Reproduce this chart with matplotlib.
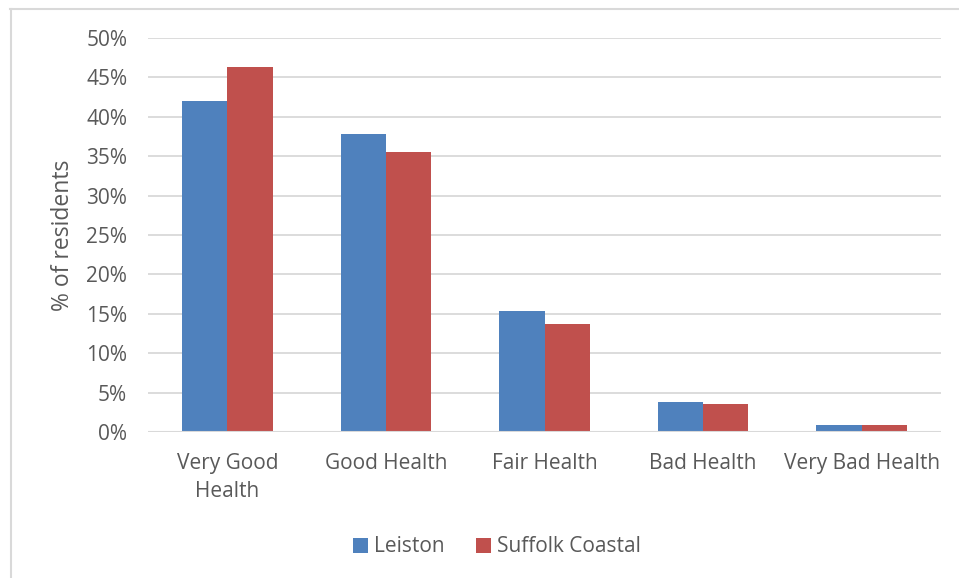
import matplotlib
matplotlib.use("Agg")
import matplotlib.pyplot as plt
from matplotlib.lines import Line2D
from matplotlib.ticker import FuncFormatter
import numpy as np

plt.rcParams['font.family'] = ['Open Sans', 'DejaVu Sans']

categories = ["Very Good\nHealth", "Good Health", "Fair Health", "Bad Health", "Very Bad Health"]
leiston = [42.0, 37.8, 15.4, 3.8, 0.9]
suffolk_coastal = [46.3, 35.5, 13.7, 3.5, 0.9]
series_names = ["Leiston", "Suffolk Coastal"]
y_ticks = [0, 5, 10, 15, 20, 25, 30, 35, 40, 45, 50]

BLUE = "#4F81BD"
RED = "#C0504D"
TEXT = "#595959"
GRID = "#D9D9D9"

W, H = 959, 578
fig = plt.figure(figsize=(W / 100, H / 100), dpi=100)

# Chart frame (top and left edges visible)
fig.add_artist(Line2D([10 / W, 1.0], [1 - 8.5 / H, 1 - 8.5 / H], color=GRID, lw=1.5))
fig.add_artist(Line2D([10.5 / W, 10.5 / W], [0, 1 - 8.5 / H], color=GRID, lw=1.5))

ax = fig.add_axes([148 / W, 1 - 432 / H, (941 - 148) / W, (432 - 38) / H])

x = np.arange(len(categories))
bw = 0.285
ax.bar(x - bw / 2, leiston, bw, color=BLUE, label=series_names[0], zorder=3)
ax.bar(x + bw / 2, suffolk_coastal, bw, color=RED, label=series_names[1], zorder=3)

ax.set_xlim(-0.5, len(categories) - 0.5)
ax.set_ylim(0, 50)
ax.set_yticks(y_ticks)
ax.yaxis.set_major_formatter(FuncFormatter(lambda v, p: f"{v:.0f}%"))
ax.set_xticks(x)
ax.set_xticklabels(categories, linespacing=1.45)

ax.grid(axis="y", color=GRID, lw=1.3, zorder=0)
for s in ax.spines.values():
    s.set_visible(False)
ax.axhline(0, color=GRID, lw=1.5, zorder=4)

ax.tick_params(axis="both", length=0, labelsize=15, colors=TEXT)
ax.tick_params(axis="y", pad=15)
ax.tick_params(axis="x", pad=15)

fig.text(63 / W, 1 - 235 / H, "% of residents", rotation=90, ha="center", va="center",
         fontsize=16.5, color=TEXT)

leg = fig.legend(loc="center", bbox_to_anchor=(497 / W, 1 - 547 / H), ncol=2, frameon=False,
                 fontsize=15, handlelength=0.7, handleheight=0.7, handletextpad=0.3,
                 columnspacing=1.5)
for t in leg.get_texts():
    t.set_color(TEXT)

fig.savefig("out.png", dpi=100, facecolor="white")
